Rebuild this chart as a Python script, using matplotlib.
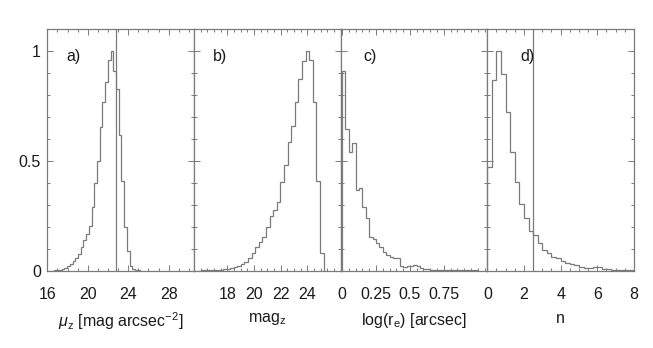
import numpy as np
import matplotlib as mpl
mpl.use('Agg')
import matplotlib.pyplot as plt

# histogram a) surface brightness mu_z, bins of ~0.27 mag
a_start = 16.09
a_width = 0.268
a_vals = [0.0, 0.0, 0.002, 0.003, 0.005, 0.008, 0.012, 0.02, 0.03, 0.045,
          0.06, 0.075, 0.11, 0.14, 0.165, 0.205, 0.29, 0.40, 0.50, 0.655,
          0.77, 0.86, 0.96, 1.0, 0.91, 0.83, 0.62, 0.41, 0.20, 0.09,
          0.022, 0.006, 0.002, 0.001]
a_cut = 22.75

# histogram b) magnitude mag_z
b_start = 15.5
b_width = 0.27
b_vals = [0.0, 0.0, 0.001, 0.001, 0.002, 0.002, 0.003, 0.004, 0.006, 0.008,
          0.011, 0.015, 0.021, 0.029, 0.041, 0.056, 0.082, 0.106, 0.132,
          0.155, 0.20, 0.249, 0.276, 0.314, 0.405, 0.48, 0.586, 0.66, 0.77,
          0.875, 0.955, 1.0, 0.958, 0.77, 0.41, 0.079]

# histogram c) log(r_e)
c_start = 0.0
c_width = 0.025
c_vals = [0.91, 0.646, 0.54, 0.58, 0.367, 0.375, 0.29, 0.238, 0.155, 0.143,
          0.124, 0.106, 0.086, 0.071, 0.064, 0.06, 0.056, 0.02, 0.018, 0.022,
          0.02, 0.026, 0.02, 0.012, 0.01, 0.006, 0.004, 0.003, 0.003, 0.002,
          0.002, 0.002, 0.001, 0.001, 0.001, 0.004, 0.002, 0.001, 0.001, 0.001]

# histogram d) Sersic index n
d_start = 0.0
d_width = 0.25
d_vals = [0.473, 0.867, 1.0, 0.897, 0.723, 0.54, 0.405, 0.306, 0.238, 0.182,
          0.162, 0.124, 0.094, 0.079, 0.064, 0.056, 0.046, 0.036, 0.03, 0.026,
          0.018, 0.014, 0.011, 0.015, 0.015, 0.009, 0.007, 0.005, 0.005, 0.005,
          0.004, 0.003]
d_cut = 2.5

panel_tags = ['a)', 'b)', 'c)', 'd)']
xlabels = [r'$\mu_\mathrm{z}$ [mag arcsec$^{\mathrm{-2}}$]', r'mag$_\mathrm{z}$',
           r'log(r$_\mathrm{e}$) [arcsec]', 'n']
xlims = [(16, 30.5), (15.5, 26.5), (-0.01, 1.07), (0, 8)]
xticks = [[16, 20, 24, 28], [18, 20, 22, 24], [0, 0.25, 0.5, 0.75],
          [0, 2, 4, 6, 8]]
xticklabels = [['16', '20', '24', '28'], ['18', '20', '22', '24'],
               ['0', '0.25', '0.5', '0.75'], ['0', '2', '4', '6', '8']]
xminor = [1.0, 0.5, 0.05, 0.5]
tag_pos = [(0.18, 0.887), (0.176, 0.887), (0.20, 0.887), (0.277, 0.887)]

LINE = '#7a7a7a'
TEXT = '#1a1a1a'

plt.rcParams['font.family'] = ['Liberation Sans', 'DejaVu Sans']
plt.rcParams['mathtext.fontset'] = 'custom'
plt.rcParams['mathtext.rm'] = 'Liberation Sans'
plt.rcParams['mathtext.it'] = 'Liberation Sans:italic'
plt.rcParams['font.size'] = 11.5

fig, axes = plt.subplots(1, 4, figsize=(6.53, 3.48), dpi=100, sharey=True)
fig.subplots_adjust(left=0.0724, right=0.9709, bottom=0.2221, top=0.9158,
                    wspace=0)

hists = [(a_start, a_width, a_vals), (b_start, b_width, b_vals),
         (c_start, c_width, c_vals), (d_start, d_width, d_vals)]

for i, ax in enumerate(axes):
    start, width, vals = hists[i]
    edges = start + width * np.arange(len(vals) + 1)
    ax.stairs(vals, edges, color=LINE, lw=0.9)

    ax.set_xlim(*xlims[i])
    ax.set_ylim(0, 1.1)
    ax.set_xticks(xticks[i])
    ax.set_xticklabels(xticklabels[i])
    ax.xaxis.set_minor_locator(mpl.ticker.MultipleLocator(xminor[i]))
    ax.set_yticks([0, 0.5, 1])
    ax.set_yticklabels(['0', '0.5', '1'])
    ax.yaxis.set_minor_locator(mpl.ticker.MultipleLocator(0.1))

    ax.tick_params(which='both', direction='in', top=True, right=True,
                   color=LINE, width=0.7, labelcolor=TEXT)
    ax.tick_params(which='major', length=4)
    ax.tick_params(which='minor', length=2.5)
    ax.tick_params(axis='x', which='major', pad=12)
    ax.tick_params(axis='y', which='major', pad=4.5)
    for s in ax.spines.values():
        s.set_color(LINE)
        s.set_linewidth(0.9)

    ax.set_xlabel(xlabels[i], color=TEXT, labelpad=6)
    ax.text(tag_pos[i][0], tag_pos[i][1], panel_tags[i], color=TEXT,
            transform=ax.transAxes, ha='center', va='center')

# selection limits
axes[0].axvline(a_cut, color=LINE, lw=0.9)
axes[3].axvline(d_cut, color=LINE, lw=0.9)

plt.savefig('out.png', dpi=100)
plt.close()
